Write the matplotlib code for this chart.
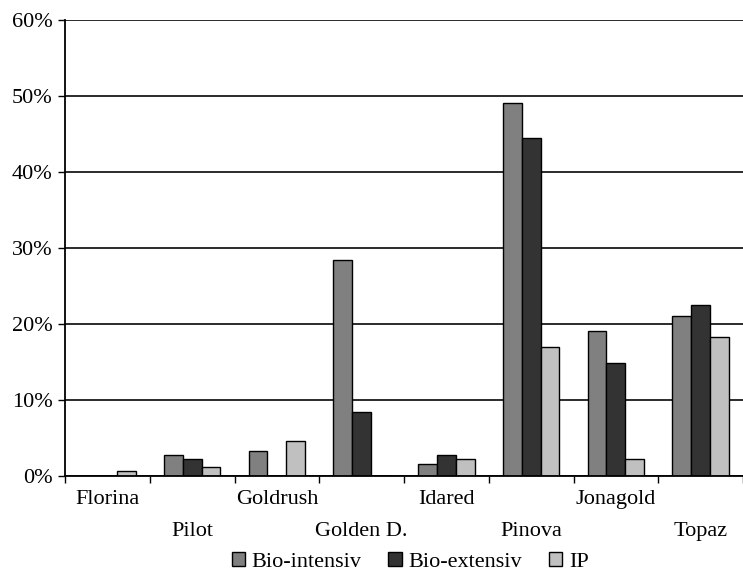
from matplotlib import pyplot as plt
from matplotlib.ticker import PercentFormatter
import numpy as np

varieties = ['Florina', 'Pilot', 'Goldrush', 'Golden D.', 'Idared',
             'Pinova', 'Jonagold', 'Topaz']
bio_intensiv = [0.0, 2.7, 3.3, 28.4, 1.6, 49.0, 19.1, 21.0]   # [%]
bio_extensiv = [0.0, 2.3, 0.0, 8.4, 2.7, 44.4, 14.9, 22.5]    # [%]
ip = [0.6, 1.2, 4.6, 0.0, 2.2, 17.0, 2.2, 18.3]               # [%]

series = [('Bio-intensiv', bio_intensiv, '#808080'),
          ('Bio-extensiv', bio_extensiv, '#333333'),
          ('IP', ip, '#c0c0c0')]

plt.rcParams['font.family'] = ['Liberation Serif', 'DejaVu Serif']

fig = plt.figure(figsize=(7.43, 5.77), dpi=100)
ax = fig.add_axes([0.0875, 0.175, 0.9125, 0.791])

x = np.arange(len(varieties))
w = 0.223
for i, (name, vals, col) in enumerate(series):
    ax.bar(x + (i - 1) * w, vals, w, color=col, edgecolor='black',
           linewidth=1.0, label=name, zorder=3)

ax.set_xlim(-0.5, len(varieties) - 0.5)
ax.set_ylim(0, 60)
ax.set_yticks(np.arange(0, 61, 10))
ax.yaxis.set_major_formatter(PercentFormatter(decimals=0))
ax.yaxis.grid(True, color='#1a1a1a', linewidth=1.3, zorder=0)
ax.tick_params(axis='y', labelsize=16, length=5, width=1, pad=4)

# labels at the bar groups, alternating rows; tick marks between the groups
labels = [v if i % 2 == 0 else '\n' + v for i, v in enumerate(varieties)]
ax.set_xticks(x)
ax.set_xticklabels(labels)
ax.set_xticks(np.arange(-0.5, len(varieties), 1.0), minor=True)
ax.tick_params(axis='x', which='major', length=0, labelsize=16, pad=10)
ax.tick_params(axis='x', which='minor', length=5, width=1)
for lbl in ax.get_xticklabels():
    lbl.set_linespacing(1.9)

for s in ['top', 'right']:
    ax.spines[s].set_visible(False)
for s in ['left', 'bottom']:
    ax.spines[s].set_linewidth(1.3)
    ax.spines[s].set_zorder(4)

fig.legend(loc='lower center', bbox_to_anchor=(0.552, -0.026), ncol=3,
           frameon=False, fontsize=16, handlelength=0.6, handleheight=0.6,
           handletextpad=0.3, columnspacing=1.2)

plt.savefig('out.png', dpi=100)
